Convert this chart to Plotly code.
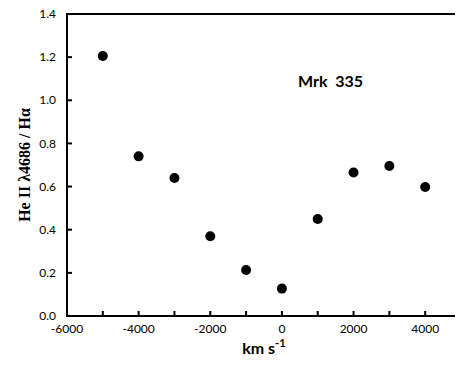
import plotly.graph_objects as go

velocity = [-5000, -4000, -3000, -2000, -1000, 0, 1000, 2000, 3000, 4000]
ratio = [1.205, 0.74, 0.64, 0.37, 0.213, 0.127, 0.45, 0.665, 0.695, 0.598]

x_ticks = [-6000, -4000, -2000, 0, 2000, 4000]
x_labels = ["-6000", "-4000", "-2000", "0", "2000", "4000"]
x_marks = [-6000, -5000, -4000, -3000, -2000, -1000, 0, 1000, 2000, 3000, 4000, 5000]
y_ticks = [0, 0.2, 0.4, 0.6, 0.8, 1.0, 1.2, 1.4]
y_labels = ["0.0", "0.2", "0.4", "0.6", "0.8", "1.0", "1.2", "1.4"]

x_range = [-6000, 5000]
y_range = [0, 1.40001]

# page body adds an 8px offset, so the figure is sized to fit inside it
W, H = 455, 360
ML, MR, MT, MB = 59, 2, 6, 52
pw, ph = W - ML - MR, H - MT - MB

fig = go.Figure()
fig.add_trace(go.Scatter(
    x=velocity, y=ratio, mode="markers",
    marker=dict(color="black", size=10),
    showlegend=False,
))

fig.add_annotation(
    x=1370, y=1.09, text="<b>Mrk  335</b>", showarrow=False,
    font=dict(family="Lato, Arial", size=16, color="black"),
)

# frame and inside ticks drawn as thin filled bars (2px)
solid = dict(type="rect", fillcolor="black", line=dict(width=0), opacity=1, layer="above")
fx, fy = 1 / pw, 1 / ph
for x0, x1, y0, y1 in [(-fx, fx, -fy, 1 + fy), (1 - fx, 1 + fx, -fy, 1 + fy),
                       (-fx, 1 + fx, -fy, fy), (-fx, 1 + fx, 1 - fy, 1 + fy)]:
    fig.add_shape(xref="paper", yref="paper", x0=x0, x1=x1, y0=y0, y1=y1, **solid)

dx = (x_range[1] - x_range[0]) / pw
for t in x_marks:
    fig.add_shape(xref="x", yref="paper", x0=t - dx, x1=t + dx, y0=0, y1=5 / ph, **solid)
dy = (y_range[1] - y_range[0]) / ph
for t in y_ticks:
    fig.add_shape(xref="paper", yref="y", x0=0, x1=5 / pw, y0=t - dy, y1=t + dy, **solid)

fig.update_layout(
    width=W, height=H,
    margin=dict(l=ML, r=MR, t=MT, b=MB, autoexpand=False),
    paper_bgcolor="white", plot_bgcolor="white",
    font=dict(family="Lato, Arial", size=12, color="black"),
)

fig.update_xaxes(
    range=x_range, tickvals=x_ticks, ticktext=x_labels,
    ticks="", showline=False, showgrid=False, zeroline=False, automargin=False,
    ticklabelstandoff=4,
    title=dict(text="<b>km s<sup>-1</sup></b>", font=dict(size=16), standoff=0),
)
fig.update_yaxes(
    range=y_range, tickvals=y_ticks, ticktext=y_labels,
    ticks="", showline=False, showgrid=False, zeroline=False, automargin=False,
    ticklabelstandoff=10, ticklabeloverflow="allow",
    title=dict(text="<b>He II λ4686 / Hα</b>",
               font=dict(family="Liberation Serif, Times New Roman", size=16), standoff=4),
)

fig.write_html("out.html")
